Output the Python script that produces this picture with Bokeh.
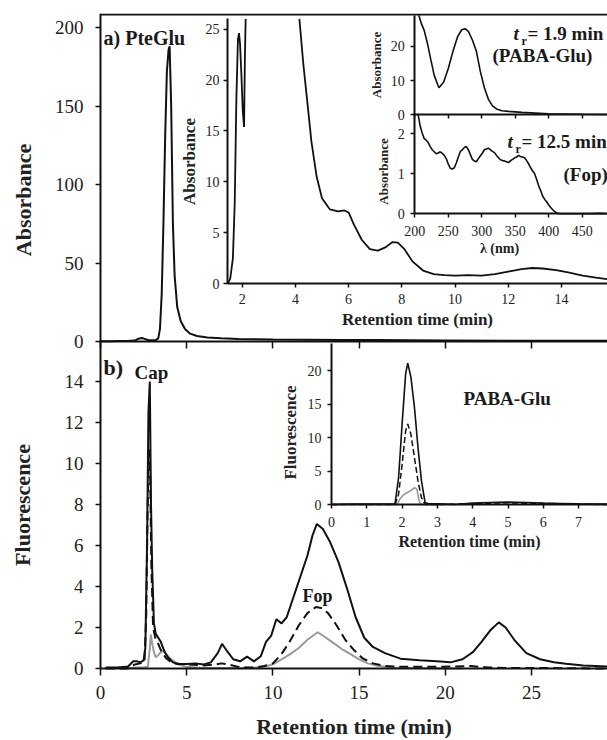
from bokeh.plotting import figure
from bokeh.models import Range1d, LinearAxis, FixedTicker, Label
from bokeh.embed import file_html
from bokeh.resources import INLINE

nan = float("nan")
FONT = "Liberation Serif"
BLACK = "#111111"
GRAY = "#9a9a9a"

# ---------------- data ----------------
# (a) PteGlu chromatogram, absorbance
t_a = [0.0, 0.5, 1.0, 1.5, 2.0, 2.2, 2.4, 2.6, 2.8, 3.0, 3.2, 3.35, 3.45, 3.55, 3.65, 3.75,
       3.85, 3.95, 4.01, 4.1, 4.2, 4.3, 4.45, 4.65, 4.9, 5.2, 5.6, 6.2, 7.0, 8.0, 10.0, 12.0,
       14.0, 16.0, 20.0, 25.0, 29.4]
abs_a = [0.2, 0.2, 0.3, 0.3, 0.6, 1.8, 2.2, 1.5, 0.8, 0.8, 0.9, 2.0, 8.0, 30.0, 75.0, 130.0,
         172.0, 186.0, 188.0, 150.0, 75.0, 42.0, 22.0, 13.0, 8.0, 5.0, 3.5, 2.6, 2.0, 1.6, 1.2, 1.1,
         1.0, 0.9, 0.7, 0.5, 0.4]

# (a) inset: zoomed chromatogram
t_a1 = [1.45, 1.55, 1.65, 1.72, 1.78, 1.84, 1.88, 1.92, 1.97, 2.02, 2.07, 2.1, 2.13, nan,
        4.15, 4.3, 4.45, 4.6, 4.8, 5.0, 5.3, 5.6, 5.85, 6.0, 6.2, 6.5, 6.8, 7.1, 7.4, 7.65,
        7.85, 8.1, 8.4, 8.8, 9.2, 9.6, 10.0, 10.5, 11.0, 11.5, 12.0, 12.5, 12.9, 13.3, 13.8,
        14.3, 14.8, 15.3, 15.75]
abs_a1 = [0.0, 0.5, 2.5, 8.0, 18.0, 24.0, 24.6, 23.5, 20.5, 17.0, 15.4, 22.0, 26.0, nan,
          26.0, 21.5, 17.8, 14.0, 10.5, 8.4, 7.3, 7.1, 7.2, 7.0, 5.8, 4.3, 3.4, 3.25, 3.6, 4.1,
          4.05, 3.4, 2.2, 1.3, 0.95, 0.85, 0.8, 0.85, 0.8, 0.95, 1.2, 1.45, 1.55, 1.5, 1.35,
          1.1, 0.8, 0.6, 0.45]

# UV spectra (inset): PABA-Glu (t_r = 1.9 min) and Fop (t_r = 12.5 min)
wl_paba = [206, 210, 214, 219, 224, 229, 236, 243, 250, 257, 264, 270, 275, 280, 286, 292,
           298, 304, 310, 316, 322, 330, 340, 360, 380, 400, 420, 450, 487]
abs_paba = [29.0, 26.5, 24.6, 20.7, 16.0, 11.5, 7.9, 9.5, 13.5, 18.5, 22.8, 24.8, 25.1, 24.3,
            21.8, 18.5, 12.5, 7.8, 4.5, 2.6, 1.7, 1.2, 1.0, 0.7, 0.5, 0.3, 0.25, 0.15, 0.1]

wl_fop = [205, 208, 211, 214, 217, 220, 223, 226, 229, 232, 235, 238, 241, 244, 247, 250, 253,
          256, 259, 262, 265, 268, 271, 274, 277, 280, 283, 286, 289, 292, 295, 298, 301, 304,
          307, 310, 313, 316, 319, 322, 325, 328, 331, 334, 337, 340, 343, 346, 349, 352, 355,
          358, 361, 364, 367, 370, 373, 376, 379, 382, 385, 388, 391, 394, 397, 400, 403, 406,
          409, 412, 416, 425, 440, 460, 475, 487]
abs_fop = [2.48, 2.2, 2.02, 1.88, 1.84, 1.78, 1.68, 1.6, 1.55, 1.5, 1.52, 1.55, 1.51, 1.46,
           1.38, 1.24, 1.14, 1.12, 1.15, 1.27, 1.42, 1.56, 1.6, 1.66, 1.68, 1.6, 1.48, 1.36, 1.32,
           1.3, 1.38, 1.45, 1.52, 1.6, 1.62, 1.64, 1.6, 1.56, 1.53, 1.46, 1.4, 1.35, 1.33, 1.32,
           1.3, 1.28, 1.33, 1.36, 1.4, 1.42, 1.46, 1.43, 1.42, 1.4, 1.33, 1.25, 1.15, 1.07, 1.0,
           0.86, 0.7, 0.58, 0.44, 0.36, 0.3, 0.22, 0.16, 0.1, 0.05, 0.02, 0.0, 0.0, 0.0, 0.0,
           0.01, 0.0]

# (b) fluorescence chromatograms: solid, dashed, gray traces
t_b1 = [0.3, 1.0, 1.6, 1.9, 2.1, 2.3, 2.5, 2.6, 2.7, 2.78, 2.86, 2.93, 3.0, 3.1, 3.2, 3.35,
        3.5, 3.7, 3.9, 4.2, 4.5, 5.0, 5.5, 6.0, 6.4, 6.8, 7.05, 7.3, 7.7, 8.1, 8.5, 8.9, 9.3,
        9.6, 9.9, 10.2, 10.5, 10.8, 11.2, 11.6, 12.0, 12.3, 12.55, 12.9, 13.3, 13.8, 14.3,
        14.8, 15.3, 15.8, 16.5, 17.4, 18.5, 19.5, 20.3, 21.0, 21.6, 22.1, 22.6, 23.1, 23.5,
        24.0, 24.7, 25.5, 26.3, 27.0, 28.0, 29.4]
fl_b1 = [0.05, 0.05, 0.1, 0.35, 0.35, 0.3, 0.4, 1.0, 6.0, 12.5, 14.0, 8.0, 4.8, 2.2, 1.7, 1.5,
         1.3, 0.85, 0.55, 0.3, 0.22, 0.22, 0.25, 0.2, 0.3, 0.75, 1.2, 0.9, 0.45, 0.35, 0.58,
         0.35, 0.6, 1.3, 1.6, 2.4, 2.2, 2.5, 3.5, 4.5, 5.5, 6.5, 7.05, 6.8, 6.2, 5.2, 3.9, 2.5,
         1.5, 1.05, 0.75, 0.48, 0.4, 0.35, 0.3, 0.45, 0.8, 1.3, 1.85, 2.25, 2.0, 1.4, 0.75,
         0.45, 0.3, 0.23, 0.15, 0.1]

t_b2 = [0.3, 1.5, 2.0, 2.3, 2.55, 2.65, 2.72, 2.8, 2.88, 2.95, 3.05, 3.2, 3.35, 3.5, 3.8, 4.2,
        5.0, 6.0, 6.7, 7.0, 7.4, 8.0, 8.5, 9.0, 9.5, 10.0, 10.5, 11.0, 11.5, 12.0, 12.5, 12.8,
        13.2, 13.7, 14.2, 14.7, 15.2, 15.8, 16.5, 17.5, 19.0, 20.5, 21.5, 22.5, 24.0, 26.0, 29.4]
fl_b2 = [0.0, 0.0, 0.2, 0.25, 0.3, 2.5, 7.0, 10.7, 9.5, 5.0, 2.0, 1.4, 1.2, 0.9, 0.5, 0.25,
         0.2, 0.15, 0.2, 0.25, 0.2, 0.08, 0.05, 0.05, 0.12, 0.25, 0.7, 1.35, 2.1, 2.7, 3.0, 2.95,
         2.7, 2.1, 1.4, 0.9, 0.5, 0.25, 0.12, 0.08, 0.08, 0.1, 0.12, 0.05, 0.02, 0.02, 0.0]

t_b3 = [1.5, 2.0, 2.5, 2.75, 2.85, 2.92, 3.0, 3.1, 3.2, 3.35, 3.5, 3.65, 3.8, 4.1, 4.5, 5.0,
        6.0, 7.0, 8.0, 9.0, 9.5, 10.0, 10.5, 11.0, 11.5, 12.0, 12.6, 13.0, 13.5, 14.0, 14.5,
        15.0, 15.5, 16.0, 16.5, 17.0, 18.0, 20.0, 21.0]
fl_b3 = [0.0, 0.05, 0.05, 0.1, 0.9, 1.65, 1.2, 0.8, 0.55, 0.65, 0.8, 0.85, 0.7, 0.45, 0.2,
         0.08, 0.03, 0.02, 0.02, 0.05, 0.1, 0.2, 0.45, 0.7, 1.0, 1.4, 1.77, 1.55, 1.25, 0.95,
         0.7, 0.45, 0.25, 0.15, 0.08, 0.05, 0.02, 0.0, 0.0]

# (b) inset: PABA-Glu fluorescence
t_ib = [0.0, 0.5, 1.0, 1.5, 1.8, 1.9, 2.0, 2.1, 2.16, 2.25, 2.35, 2.45, 2.55, 2.65, 2.75, 3.0,
        3.5, 4.0, 4.5, 5.0, 5.5, 6.0, 6.5, 7.0, 7.82]
fl_ib1 = [0.0, 0.05, 0.05, 0.05, 0.1, 4.0, 12.0, 19.5, 21.1, 19.0, 14.5, 8.5, 3.5, 0.3, 0.1,
          0.1, 0.0, 0.2, 0.3, 0.35, 0.3, 0.2, 0.15, 0.1, 0.05]
fl_ib2 = [0.0, 0.0, 0.0, 0.0, 0.0, 1.5, 6.0, 11.0, 12.0, 10.5, 7.0, 3.5, 1.0, 0.0, 0.0, 0.0,
          0.05, 0.1, 0.2, 0.25, 0.2, 0.15, 0.1, 0.05, 0.0]
t_ib3 = [1.5, 1.85, 1.95, 2.05, 2.15, 2.25, 2.35, 2.42, 2.47, 2.52, 3.0]
fl_ib3 = [0.0, 0.0, 0.9, 1.5, 1.8, 2.1, 2.5, 2.3, 0.8, 0.0, 0.0]

ticks_main_x = [0, 5, 10, 15, 20, 25]
ticks_abs = [0, 50, 100, 150, 200]
ticks_fl = [0, 2, 4, 6, 8, 10, 12, 14]
ticks_a1x = [2, 4, 6, 8, 10, 12, 14]
ticks_a1y = [0, 5, 10, 15, 20, 25]
ticks_wl = [200, 250, 300, 350, 400, 450]
ticks_s1y = [0, 10, 20]
ticks_s2y = [0, 1, 2]
ticks_ibx = [0, 1, 2, 3, 4, 5, 6, 7]
ticks_iby = [0, 5, 10, 15, 20]

# ---------------- layout of the frame (page pixels) ----------------
W, H = 607, 740
FL, FR, FT, FB = 0, 607, 13, 740   # frame covers the page so outer texts are drawn inside it


def hrange(val, px, ppu):
    start = val - (px - FL) / ppu
    return Range1d(start, start + (FR - FL) / ppu)


def vrange(val, py, ppu):
    return Range1d(val - (FB - py) / ppu, val + (py - FT) / ppu)


main_x = hrange(0, 100, 17.24)
main_y = vrange(0, 668, 20.5)

p = figure(width=W, height=H, output_backend="svg", toolbar_location=None,
           x_range=main_x, y_range=main_y,
           x_axis_location=None, y_axis_location=None,
           min_border_left=FL, min_border_right=W - FR, min_border_top=FT,
           min_border_bottom=H - FB)
p.outline_line_color = None
p.background_fill_color = "white"
p.border_fill_color = "white"
p.grid.visible = False

p.extra_x_ranges = {
    "a1x": hrange(2, 241.7, 26.6),
    "sx": hrange(200, 414.3, 0.6696),
    "bx": hrange(0, 331, 35.3),
    "px": Range1d(FL, FR),
}
p.extra_y_ranges = {
    "ay": vrange(0, 341, 1.57),
    "a1y": vrange(0, 283.3, 10.19),
    "s1y": vrange(0, 114.3, 3.43),
    "s2y": vrange(0, 213.3, 40.0),
    "by": vrange(0, 504, 6.7),
    "py": Range1d(FB, FT),
}


def style_axis(ax, fs, lfs, tick_out, tstand, lstand, line, labels, lw=2):
    ax.axis_line_color = BLACK if line else None
    ax.axis_line_width = lw
    ax.major_tick_line_color = BLACK
    ax.major_tick_line_width = 1.5
    ax.major_tick_out = tick_out
    ax.major_tick_in = 0
    ax.minor_tick_line_color = None
    ax.major_label_text_font = FONT
    ax.major_label_text_font_size = f"{fs}px" if labels else "0px"
    ax.major_label_text_color = "#222222" if labels else None
    ax.major_label_standoff = tstand
    ax.axis_label_text_font = FONT
    ax.axis_label_text_font_style = "bold"
    ax.axis_label_text_font_size = f"{lfs}px"
    ax.axis_label_text_color = "#222222"
    ax.axis_label_standoff = lstand


def axis(side, ticks, xr="default", yr="default", loc=0, bounds="auto", label="",
         fs=19, lfs=22, tick_out=5, tstand=8, lstand=8, line=True, labels=True, lw=2):
    ax = LinearAxis(x_range_name=xr, y_range_name=yr, fixed_location=loc,
                    ticker=FixedTicker(ticks=ticks), bounds=bounds, axis_label=label)
    style_axis(ax, fs, lfs, tick_out, tstand, lstand, line, labels, lw)
    p.add_layout(ax, side)
    return ax


def spine(side, xr="default", yr="default", loc=0, bounds="auto", lw=2):
    ax = LinearAxis(x_range_name=xr, y_range_name=yr, fixed_location=loc,
                    ticker=FixedTicker(ticks=[]), bounds=bounds)
    ax.axis_line_color = BLACK
    ax.axis_line_width = lw
    ax.major_tick_line_color = None
    ax.minor_tick_line_color = None
    ax.major_label_text_font_size = "0px"
    p.add_layout(ax, side)
    return ax


# ---- main axes ----
axis("below", ticks_main_x, loc=0, bounds=(0, main_x.end), label="Retention time (min)",
     fs=19, lfs=22, tick_out=7, tstand=10, lstand=12)
spine("left", loc=0, bounds=(0, main_y.end))
axis("left", ticks_fl, loc=0, bounds=(0, 15.95), label="Fluorescence", fs=19, lfs=22,
     tick_out=5, tstand=12, lstand=27, line=False)
axis("left", ticks_abs, yr="ay", loc=0, bounds=(-20, 200), label="Absorbance", fs=19, lfs=22,
     tick_out=5, tstand=12, lstand=16, line=False)

# top border line
spine("below", xr="px", yr="py", loc=14, bounds=(100, FR))

# divider between panels (a) and (b), with ticks
axis("below", ticks_main_x, yr="ay", loc=0, bounds=(0, main_x.end), tick_out=7, labels=False)

# inset a1
axis("left", ticks_a1y, xr="a1x", yr="a1y", loc=1.45, bounds=(-2, 26), label="Absorbance",
     fs=14, lfs=17, tick_out=4, tstand=4, lstand=4, line=False)
spine("left", xr="a1x", yr="a1y", loc=1.45, bounds=(0, 26))
axis("below", ticks_a1x, xr="a1x", yr="a1y", loc=0, bounds=(1.45, 16.35),
     label="Retention time (min)", fs=14, lfs=17, tick_out=4, tstand=6, lstand=3, line=False)
spine("below", xr="a1x", yr="a1y", loc=0, bounds=(1.45, 15.733))

# spectra insets
axis("left", ticks_s1y, xr="sx", yr="s1y", loc=200, bounds=(0, 29), label="Absorbance",
     fs=14, lfs=13, tick_out=4, tstand=6, lstand=4)
axis("below", ticks_wl, xr="sx", yr="s1y", loc=0, bounds=(200, 487.8), tick_out=4,
     labels=False)
axis("left", ticks_s2y, xr="sx", yr="s2y", loc=200, bounds=(-0.4, 2.5), label="Absorbance",
     fs=14, lfs=13, tick_out=4, tstand=6, lstand=4, line=False)
spine("left", xr="sx", yr="s2y", loc=200, bounds=(0, 2.5))
axis("below", ticks_wl, xr="sx", yr="s2y", loc=0, bounds=(200, 453.7), label="λ (nm)",
     fs=14, lfs=14, tick_out=4, tstand=8, lstand=2, line=False)
spine("below", xr="sx", yr="s2y", loc=0, bounds=(200, 487.8))

# inset b
axis("left", ticks_iby, xr="bx", yr="by", loc=0, bounds=(-2.5, 24), label="Fluorescence",
     fs=14, lfs=17, tick_out=4, tstand=6, lstand=5, line=False)
spine("left", xr="bx", yr="by", loc=0, bounds=(0, 24))
axis("below", ticks_ibx, xr="bx", yr="by", loc=0, bounds=(0, 7.819),
     label="Retention time (min)", fs=14, lfs=16, tick_out=4, tstand=8, lstand=3)

# ---------------- lines ----------------
p.line(t_a, abs_a, y_range_name="ay", line_color=BLACK, line_width=2)
p.line(t_a1, abs_a1, x_range_name="a1x", y_range_name="a1y", line_color=BLACK, line_width=1.8)
p.line(wl_paba, abs_paba, x_range_name="sx", y_range_name="s1y", line_color=BLACK, line_width=1.6)
p.line(wl_fop, abs_fop, x_range_name="sx", y_range_name="s2y", line_color=BLACK, line_width=1.6)

p.line(t_b3, fl_b3, line_color=GRAY, line_width=2)
p.line(t_b2, fl_b2, line_color=BLACK, line_width=2, line_dash="9 5")
p.line(t_b1, fl_b1, line_color=BLACK, line_width=2)

p.line(t_ib3, fl_ib3, x_range_name="bx", y_range_name="by", line_color=GRAY, line_width=1.6)
p.line(t_ib, fl_ib2, x_range_name="bx", y_range_name="by", line_color=BLACK, line_width=1.5,
       line_dash="6 3")
p.line(t_ib, fl_ib1, x_range_name="bx", y_range_name="by", line_color=BLACK, line_width=1.6)


# ---------------- text ----------------
def txt(x, y, s, size, style="bold"):
    p.add_layout(Label(x=x, y=y, x_range_name="px", y_range_name="py", text=s,
                       text_font=FONT, text_font_size=f"{size}px", text_font_style=style,
                       text_color="#1a1a1a", text_baseline="alphabetic", text_align="left"))


txt(103, 37, "a) PteGlu", 20)
txt(103, 367, "b)", 22)
txt(134, 372, "Cap", 19)
txt(302, 595, "Fop", 18)
txt(463, 398, "PABA-Glu", 19)
txt(513, 33, "t", 19, "bold italic")
txt(521, 40, "r", 12)
txt(527, 33, "= 1.9 min", 19)
txt(492, 55, "(PABA-Glu)", 19)
txt(507, 141, "t", 19, "bold italic")
txt(515, 148, "r", 12)
txt(521, 141, "= 12.5 min", 19)
txt(563, 174, "(Fop)", 19)

open("out.html", "w").write(file_html(p, INLINE))
